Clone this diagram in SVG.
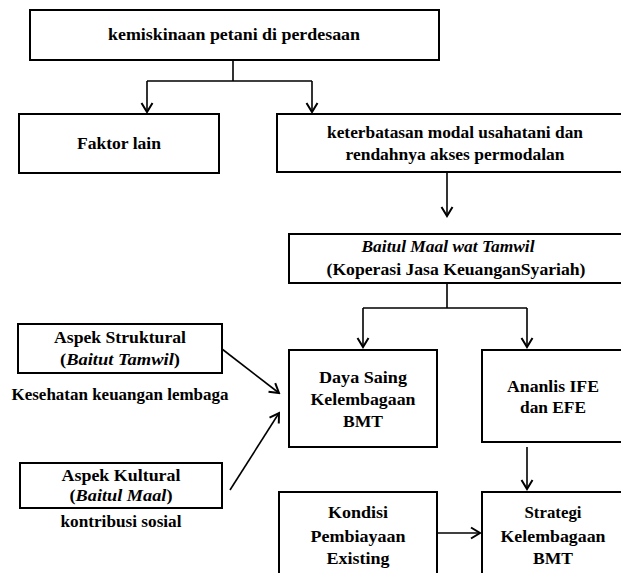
<svg xmlns="http://www.w3.org/2000/svg" width="621" height="573" viewBox="0 0 621 573">
<style>
.box{fill:#fff;stroke:#000;stroke-width:2}
.t{font-family:"Liberation Serif","Times New Roman",serif;font-weight:bold;font-size:17px;fill:#000;text-anchor:middle}
.i{font-style:italic}
.c{fill:none;stroke:#000;stroke-width:1.6}
</style>
<defs>
<marker id="ah" viewBox="-11 -7 13 14" markerWidth="13" markerHeight="14" refX="0" refY="0" orient="auto" markerUnits="userSpaceOnUse">
<path d="M-9,-5.5 L0,0 L-9,5.5" fill="none" stroke="#000" stroke-width="2"/>
</marker>
</defs>
<rect width="621" height="573" fill="#fff"/>
<g id="connectors">
<path class="c" d="M233,60 V81 M147,81 H312"/>
<path class="c" d="M147,81 V112" marker-end="url(#ah)"/>
<path class="c" d="M312,81 V112" marker-end="url(#ah)"/>
<path class="c" d="M447,172 V216" marker-end="url(#ah)"/>
<path class="c" d="M447,283 V308 M363,308 H527"/>
<path class="c" d="M363,308 V347" marker-end="url(#ah)"/>
<path class="c" d="M527,308 V347" marker-end="url(#ah)"/>
<path class="c" d="M527,447 V489" marker-end="url(#ah)"/>
<path class="c" d="M437,533 H480" marker-end="url(#ah)"/>
<path class="c" d="M222,349 L279,393" marker-end="url(#ah)"/>
<path class="c" d="M230,490 L279,413" marker-end="url(#ah)"/>
</g>
<g id="n-kemiskinaan">
<rect class="box" x="30" y="10" width="409" height="50"/>
<text class="t" x="234" y="40" textLength="252" lengthAdjust="spacingAndGlyphs">kemiskinaan petani di perdesaan</text>
</g>
<g id="n-faktor">
<rect class="box" x="19" y="114" width="200" height="59"/>
<text class="t" x="119" y="149" textLength="84" lengthAdjust="spacingAndGlyphs">Faktor lain</text>
</g>
<g id="n-keterbatasan">
<rect class="box" x="277" y="114" width="350" height="58"/>
<text class="t" x="455" y="138" textLength="256" lengthAdjust="spacingAndGlyphs">keterbatasan modal usahatani dan</text>
<text class="t" x="455" y="160" textLength="219" lengthAdjust="spacingAndGlyphs">rendahnya akses permodalan</text>
</g>
<g id="n-bmt">
<rect class="box" x="289" y="234" width="340" height="49"/>
<text class="t i" x="448" y="252" textLength="173" lengthAdjust="spacingAndGlyphs">Baitul Maal wat Tamwil</text>
<text class="t" x="456" y="275" textLength="259" lengthAdjust="spacingAndGlyphs">(Koperasi Jasa KeuanganSyariah)</text>
</g>
<g id="n-daya">
<rect class="box" x="289" y="350" width="148" height="97"/>
<text class="t" x="363" y="383" textLength="88" lengthAdjust="spacingAndGlyphs">Daya Saing</text>
<text class="t" x="363" y="405" textLength="105" lengthAdjust="spacingAndGlyphs">Kelembagaan</text>
<text class="t" x="363" y="427" textLength="40" lengthAdjust="spacingAndGlyphs">BMT</text>
</g>
<g id="n-ananlis">
<rect class="box" x="482" y="350" width="145" height="92"/>
<text class="t" x="553" y="392" textLength="92" lengthAdjust="spacingAndGlyphs">Ananlis IFE</text>
<text class="t" x="553" y="413" textLength="66" lengthAdjust="spacingAndGlyphs">dan EFE</text>
</g>
<g id="n-struktural">
<rect class="box" x="18" y="324" width="204" height="49"/>
<text class="t" x="120" y="343" textLength="132" lengthAdjust="spacingAndGlyphs">Aspek Struktural</text>
<text class="t" x="120" y="365" textLength="120" lengthAdjust="spacingAndGlyphs">(<tspan class="i">Baitut Tamwil</tspan>)</text>
<text class="t" x="120" y="400" textLength="217" lengthAdjust="spacingAndGlyphs">Kesehatan keuangan lembaga</text>
</g>
<g id="n-kultural">
<rect class="box" x="20" y="463" width="202" height="45"/>
<text class="t" x="121" y="481" textLength="119" lengthAdjust="spacingAndGlyphs">Aspek Kultural</text>
<text class="t" x="121" y="501" textLength="103" lengthAdjust="spacingAndGlyphs">(<tspan class="i">Baitul Maal</tspan>)</text>
<text class="t" x="121" y="527" textLength="121" lengthAdjust="spacingAndGlyphs">kontribusi sosial</text>
</g>
<g id="n-kondisi">
<rect class="box" x="279" y="492" width="158" height="90"/>
<text class="t" x="358" y="518" textLength="60" lengthAdjust="spacingAndGlyphs">Kondisi</text>
<text class="t" x="358" y="542" textLength="95" lengthAdjust="spacingAndGlyphs">Pembiayaan</text>
<text class="t" x="358" y="564" textLength="63" lengthAdjust="spacingAndGlyphs">Existing</text>
</g>
<g id="n-strategi">
<rect class="box" x="482" y="492" width="145" height="90"/>
<text class="t" x="553" y="518" textLength="57" lengthAdjust="spacingAndGlyphs">Strategi</text>
<text class="t" x="553" y="542" textLength="105" lengthAdjust="spacingAndGlyphs">Kelembagaan</text>
<text class="t" x="553" y="564" textLength="40" lengthAdjust="spacingAndGlyphs">BMT</text>
</g>
</svg>
